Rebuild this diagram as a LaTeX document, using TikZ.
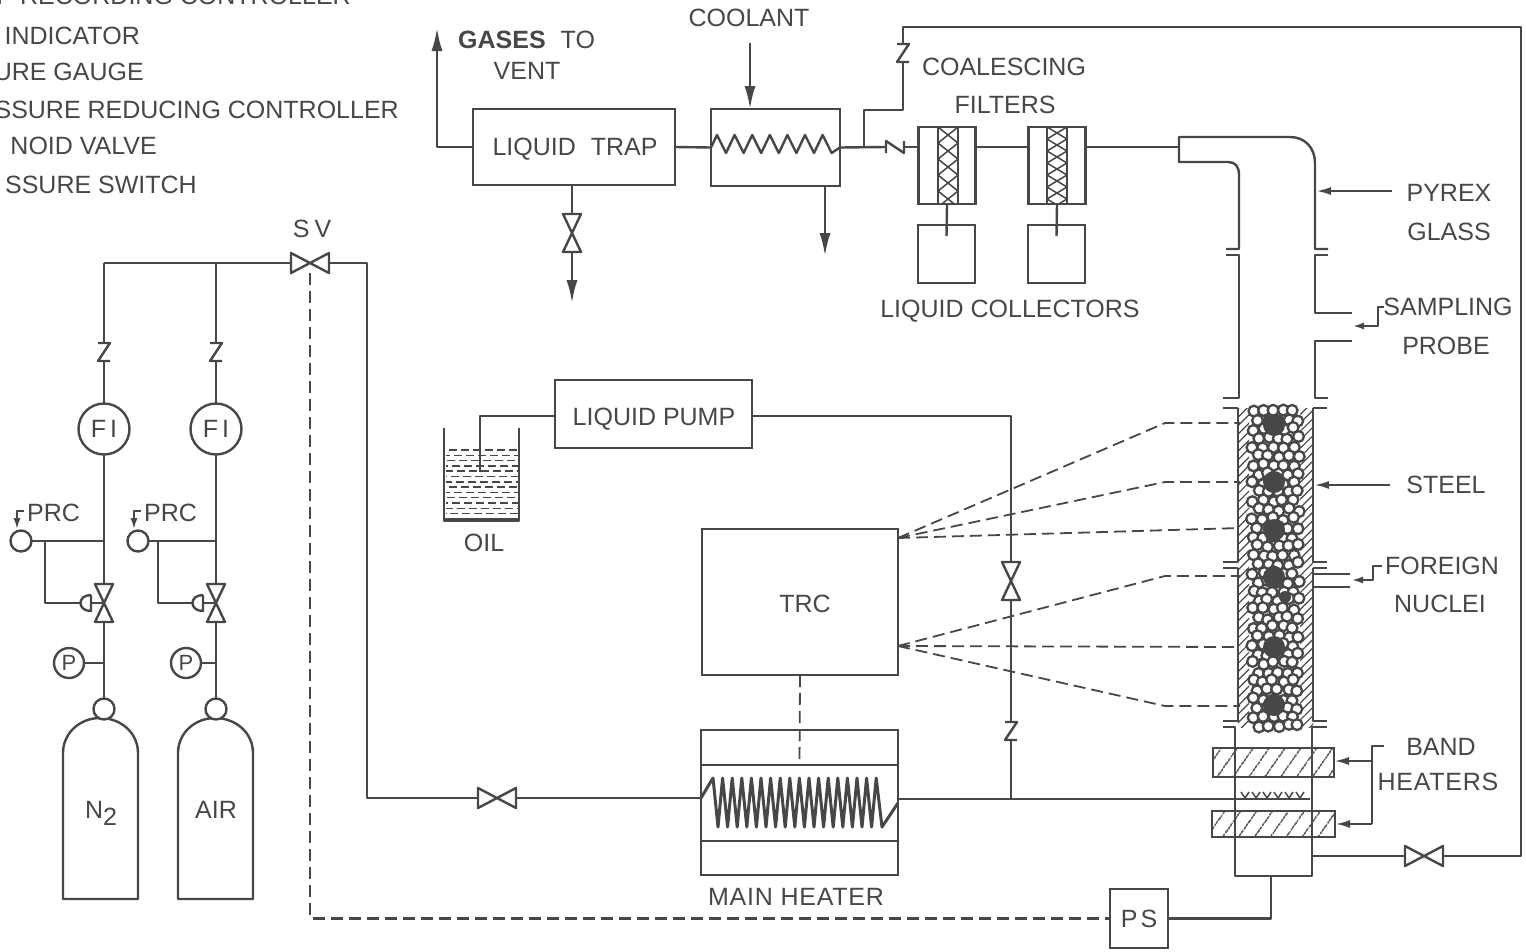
\documentclass[tikz,border=0pt]{standalone}
\usepackage{fontspec}
\setmainfont{Liberation Sans}
\usetikzlibrary{arrows.meta,patterns.meta}
\definecolor{ink}{gray}{0.28}

\newcommand*{\valveh}[3]{
	\node[valvept,minimum width=38pt,minimum height=20pt] (#1) at (#2,#3) {};
	\draw[pipe,fill=white] (#1.north west) -- (#1.south east) -- (#1.north east) -- (#1.south west) -- cycle;
}
\newcommand*{\valvev}[3]{
	\node[valvept,minimum width=18pt,minimum height=38pt] (#1) at (#2,#3) {};
	\draw[pipe,fill=white] (#1.north west) -- (#1.south east) -- (#1.south west) -- (#1.north east) -- cycle;
}
\newcommand*{\checkv}[3]{
	\node[valvept,minimum width=12pt,minimum height=18pt] (#1) at (#2,#3) {};
	\draw[pipe] (#1.north west) -- (#1.north east) -- (#1.south west) -- (#1.south east);
}

\begin{document}
\begin{tikzpicture}
[
	x=1pt,
	y=-1pt,
	pipe/.style={line width=2.4pt,color=ink,line join=round},
	thinpipe/.style={line width=1.5pt,color=ink},
	heavy/.style={line width=3.2pt,color=ink},
	lead/.style={pipe,-{Latex[length=15pt,width=8pt]}},
	leadbig/.style={pipe,-{Latex[length=23pt,width=11pt]}},
	leadsmall/.style={pipe,-{Latex[length=12pt,width=7pt]}},
	sense/.style={line width=1.8pt,color=ink,dash pattern=on 12pt off 6pt},
	box/.style={draw=ink,line width=2.5pt,inner sep=0pt,outer sep=0pt},
	ring/.style={circle,draw=ink,fill=white,line width=2.4pt,inner sep=0pt,outer sep=0pt},
	valvept/.style={inner sep=0pt,outer sep=0pt},
	lbl/.style={inner sep=0pt,text=ink,text height=17.9pt,text depth=0pt,font=\fontsize{25}{25}\selectfont},
	lblwide/.style={lbl,font=\fontsize{25}{25}\selectfont\addfontfeature{LetterSpace=3}},
	pebble/.style={draw=ink,fill=white,line width=2.3pt},
	hatchwall/.style={pattern={Lines[angle=45,distance=6pt,line width=1.2pt]},pattern color=ink},
	hatchband/.style={pattern={Lines[angle=55,distance=13pt,line width=1.5pt]},pattern color=ink}
]
	\useasboundingbox (0,0) rectangle (1526,951);

	% legend
	\foreach \ltxt/\lx/\ly/\lnm in {MP RECORDING CONTROLLER/351/-4/a,INDICATOR/140/36/b,URE GAUGE/144/72/c,SSURE REDUCING CONTROLLER/399/110/d,NOID VALVE/157/146/e,SSURE SWITCH/197/185/f}
		\node[lbl,anchor=east] (leg\lnm) at (\lx,\ly) {\ltxt};

	% gas cylinders and their lines
	\valveh{sv}{310}{263}
	\node[lbl] (svlbl) at (312,229) {S\hspace{5pt}V};
	\foreach \gx/\prcx/\brx/\gaugex/\cylx/\gtxt/\nm in {104/21/45/69/63/{N\raisebox{-7pt}{2}}/n,216/138/158/186/178/AIR/a}{
		\draw[pipe] (\cylx,899) -- (\cylx,753) .. controls (\cylx,733) and (\cylx+17,718) .. (\cylx+37,718) .. controls (\cylx+58,718) and (\cylx+75,733) .. (\cylx+75,753) -- (\cylx+75,899) -- cycle;
		\node[lbl] (cyl\nm) at (\cylx+38,810) {\gtxt};
		\node[ring,minimum size=21pt] (noz\nm) at (\gx,709) {};
		\node[ring,minimum size=51pt] (fi\nm) at (\gx,429) {};
		\node[lbl] (filbl\nm) at (fi\nm) {F\hspace{4pt}I};
		\node[ring,minimum size=21pt] (prc\nm) at (\prcx,541) {};
		\node[ring,minimum size=30pt] (gauge\nm) at (\gaugex,663) {};
		\node[lbl,text height=15.7pt,font=\fontsize{22}{22}\selectfont] (gaugelbl\nm) at (gauge\nm) {P};
		\node[lbl,anchor=west] (prclbl\nm) at (\prcx+6,513) {PRC};
		\checkv{chk\nm}{\gx}{352}
		\valvev{v\nm}{\gx}{603}
		\draw[pipe] (v\nm.center) -- (\gx-13,603);
		\draw[pipe,fill=white] (\gx-13,595) -- (\gx-13,611) .. controls (\gx-27,611) and (\gx-27,595) .. (\gx-13,595);
		\draw[pipe] (chk\nm.north) -- (\gx,263);
		\draw[pipe] (chk\nm.south) -- (fi\nm.north);
		\draw[pipe] (fi\nm.south) -- (v\nm.north);
		\draw[pipe] (v\nm.south) -- (noz\nm.north);
		\draw[pipe] (prc\nm.east) -- (\gx,541);
		\draw[pipe] (\brx,541) -- (\brx,603) -- (\gx-24,603);
		\draw[pipe] (gauge\nm.east) -- (\gx,663);
		\draw[leadsmall] (\prcx+3,511) -- (\prcx-4,511) -- (\prcx-4,530);
	}
	\draw[pipe] (sv.west) -- (104,263);
	\draw[pipe] (sv.east) -- (367,263) -- (367,798) -- (478,798);
	\valveh{vm}{497}{798}

	% oil and pump
	\node[box,minimum width=197pt,minimum height=68pt] (pump) at (653.5,414) {};
	\node[lbl] (pumplbl) at (654,417) {LIQUID PUMP};
	\foreach \oy in {450,455.3,...,518}
		\draw[thinpipe,dash pattern=on 8pt off 4pt,dash phase=\oy*1.3] (446,\oy) -- (518,\oy);
	\draw[pipe] (444,428) -- (444,521) -- (519,521) -- (519,428);
	\draw[heavy] (444,520) -- (519,520);
	\draw[pipe] (pump.west |- 0,416) -- (480,416) -- (480,472);
	\node[lbl] (oil) at (484,543) {OIL};

	% main heater
	\node[box,minimum width=197pt,minimum height=145pt] (heater) at (799.5,802.5) {};
	\draw[pipe] (heater.west |- 0,765) -- (heater.east |- 0,765);
	\draw[pipe] (heater.west |- 0,841) -- (heater.east |- 0,841);
	\coordinate (hin) at (701,798);
	\coordinate (hout) at (898,799);
	\draw[pipe,line width=3pt] (hin) -- (713,778) \foreach \i in {0,...,16} { -- ({718+\i*9.6},827) -- ({722.6+\i*9.6},778) } -- (882,827) -- (898,803);
	\node[lblwide] (heaterlbl) at (796,897) {MAIN HEATER};
	\draw[pipe] (vm.east) -- (hin);
	\draw[pipe] (hout) -- (1310,799);

	% temperature recorder
	\node[box,minimum width=196pt,minimum height=146pt] (trc) at (800,602) {};
	\node[lbl] (trclbl) at (805,604) {TRC};
	\draw[sense] (trc.south) -- (heater.north |- 0,765);
	\coordinate (tca) at (898,538);
	\coordinate (tcb) at (898,646);
	\draw[sense] (tca) -- (1165,423) -- (1240,423);
	\draw[sense] (tca) -- (1165,482) -- (1240,482);
	\draw[sense] (tca) -- (1240,528);
	\draw[sense] (tcb) -- (1165,576) -- (1240,576);
	\draw[sense] (tcb) -- (1240,647);
	\draw[sense] (tcb) -- (1165,706) -- (1240,706);

	% pump line
	\valvev{vp}{1011}{581}
	\checkv{chkp}{1011}{731}
	\draw[pipe] (pump.east |- 0,416) -- (1011,416) -- (vp.north);
	\draw[pipe] (vp.south) -- (chkp.north);
	\draw[pipe] (chkp.south) -- (1011,799);

	% liquid trap and cooler
	\node[box,minimum width=202pt,minimum height=76pt] (trap) at (574,147) {};
	\node[lbl] (traplbl) at (575,147) {LIQUID\hspace{8pt} TRAP};
	\node[box,minimum width=129pt,minimum height=77pt] (cooler) at (775.5,147.5) {};
	\draw[pipe] (trap.east) -- (cooler.west);
	\draw[pipe] (cooler.west) \foreach \i in {0,...,6} { -- ({717+\i*17.6},135) -- ({726+\i*17.6},153) } -- (cooler.east);
	\draw[leadbig] (trap.west) -- (437,147) -- (437,28);
	\node[lbl,anchor=west] (gases) at (458,40) {\textbf{GASES}\hspace{8pt} TO};
	\node[lbl] (vent) at (527,71) {VENT};
	\valvev{vt}{572}{233}
	\draw[pipe] (vt.north |- trap.south) -- (vt.north);
	\draw[leadbig] (vt.south) -- (572,303);
	\node[lbl] (coolant) at (749,18) {COOLANT};
	\coordinate (coolin) at (750,43);
	\coordinate (coolout) at (825,186);
	\draw[leadbig] (coolin) -- (coolin |- cooler.north);
	\draw[leadbig] (coolout) -- (825,256);

	% filters and collectors
	\coordinate (hood) at (1179,147);
	\foreach \cx/\hx/\gap/\nm/\ltr in {947/938/16/fa/ca,1057/1047/12/fb/cb}{
		\node[box,minimum width=57pt,minimum height=77pt] (\nm) at (\cx,165.5) {};
		\begin{scope}
			\clip (\hx,127) rectangle (\hx+20,204);
			\foreach \k in {-1,...,7} {
				\draw[thinpipe] (\hx,127+\k*\gap) -- (\hx+20,127+\k*\gap+\gap);
				\draw[thinpipe] (\hx,127+\k*\gap+\gap) -- (\hx+20,127+\k*\gap);
			}
		\end{scope}
		\draw[pipe] (\hx,127) -- (\hx,204);
		\draw[pipe] (\hx+20,127) -- (\hx+20,204);
		\node[box,minimum width=57pt,minimum height=58pt] (\ltr) at (\cx-.5,254) {};
		\draw[pipe] (\nm.south) -- ([yshift=-11pt]\ltr.north);
	}
	\draw[pipe] (fa.east |- hood) -- (fb.west |- hood);
	\node[lbl] (coalesce) at (1004,67) {COALESCING};
	\node[lbl] (filters) at (1005,105) {FILTERS};
	\node[lbl] (collectors) at (1010,309) {LIQUID COLLECTORS};
	\checkv{chkz}{903}{53}
	\node[valvept,minimum width=18pt,minimum height=12pt] (chkh) at (895,147) {};
	\draw[pipe] (chkh.south west) -- (chkh.north west) -- (chkh.south east) -- (chkh.north east);
	\draw[pipe] (cooler.east) -- (chkh.west);
	\draw[pipe] (chkh.east) -- (fa.west |- chkh.east);
	\draw[pipe] (864,147) -- (864,110) -- (903,110) -- (chkz.south);

	% glass section
	\draw[pipe] (fb.east |- hood) -- (hood);
	\draw[pipe] (1226,249) -- (1239,249) -- (1239,175) .. controls (1239,166) and (1235,162) .. (1228,162) -- (1179,162) -- (1179,137) -- (1290,137) .. controls (1305,137) and (1315,148) .. (1315,163) -- (1315,249) -- (1328,249);
	\draw[pipe] (1328,255) -- (1315,255) -- (1315,313) -- (1352,313);
	\draw[pipe] (1352,341) -- (1315,341) -- (1315,398) -- (1328,398);
	\draw[pipe] (1226,255) -- (1239,255) -- (1239,398) -- (1223,398);

	% steel section with packing
	\fill[hatchwall] (1238,408) rectangle (1249,727);
	\fill[hatchwall] (1300,408) rectangle (1313,727);
	\pgfmathsetseed{11}
	\foreach \r in {0,...,35}
		\foreach \c in {0,...,4}{
			\pgfmathsetmacro{\bx}{1253+\c*10+mod(\r,2)*5+rand*1.4}
			\pgfmathsetmacro{\by}{411+\r*9+rand*1.8}
			\draw[pebble] (\bx,\by) circle (5.4);
		}
	\foreach \dy in {425,482,530,577,647,705}
		\fill[ink] (1274,\dy) circle (11);
	\fill[ink] (1285,597) circle (6);
	\foreach \fy/\fz in {408/562,568/721}{
		\draw[pipe] (1238,\fy) -- (1238,\fz) -- (1223,\fz);
		\draw[pipe] (1313,\fy) -- (1313,\fz) -- (1327,\fz);
		\draw[pipe] (1223,\fy) -- (1238,\fy);
		\draw[pipe] (1327,\fy) -- (1313,\fy);
	}
	\draw[pipe] (1223,727) -- (1235,727) -- (1235,876) -- (1312,876) -- (1312,727) -- (1327,727);

	% band heaters and spray
	\fill[hatchband] (1213,748) rectangle (1334,777);
	\fill[hatchband] (1212,811) rectangle (1335,837);
	\node[box,minimum width=121pt,minimum height=29pt] (banda) at (1273.5,762.5) {};
	\node[box,minimum width=123pt,minimum height=26pt] (bandb) at (1273.5,824) {};
	\foreach \sx in {1245,1256,...,1305}
		\draw[thinpipe] (\sx-4,792) -- (\sx,798) -- (\sx+4,792);

	% right hand labels
	\node[lbl] (pyrex) at (1449,193) {PYREX};
	\node[lbl] (glass) at (1449,232) {GLASS};
	\draw[lead] (1392,191) -- (1316,191);
	\node[lbl] (sampling) at (1448,307) {SAMPLING};
	\node[lbl] (probe) at (1446,346) {PROBE};
	\draw[leadsmall] (1384,307) -- (1378,307) -- (1378,326) -- (1352,326);
	\node[lbl] (steel) at (1446,485) {STEEL};
	\draw[lead] (1390,485) -- (1314,485);
	\node[lbl] (foreign) at (1442,566) {FOREIGN};
	\node[lbl] (nuclei) at (1440,604) {NUCLEI};
	\draw[pipe] (1313,574) -- (1350,574);
	\draw[pipe] (1313,587) -- (1350,587);
	\draw[leadsmall] (1382,566) -- (1373,566) -- (1373,580) -- (1351,580);
	\node[lbl] (band) at (1441,747) {BAND};
	\node[lblwide] (heaters) at (1438,782) {HEATERS};
	\draw[pipe] (1384,746) -- (1372,746) -- (1372,824);
	\draw[lead] (1372,761) -- (banda.east |- 0,761);
	\draw[lead] (1372,824) -- (bandb.east);

	% return line
	\valveh{vr}{1424}{856}
	\draw[pipe] (1312,856) -- (vr.west);
	\draw[pipe] (vr.east) -- (1521,856) -- (1521,27) -- (903,27) -- (chkz.north);

	% pressure switch
	\node[box,minimum width=58pt,minimum height=59pt] (ps) at (1139,918.5) {};
	\node[lbl] (pslbl) at (ps) {P\hspace{3pt}S};
	\draw[pipe] (ps.east) -- (1271,918.5) -- (1271,876);
	\draw[sense,line width=2.2pt] (sv.south) -- (sv.south |- ps.west) -- (ps.west);

\end{tikzpicture}
\end{document}
